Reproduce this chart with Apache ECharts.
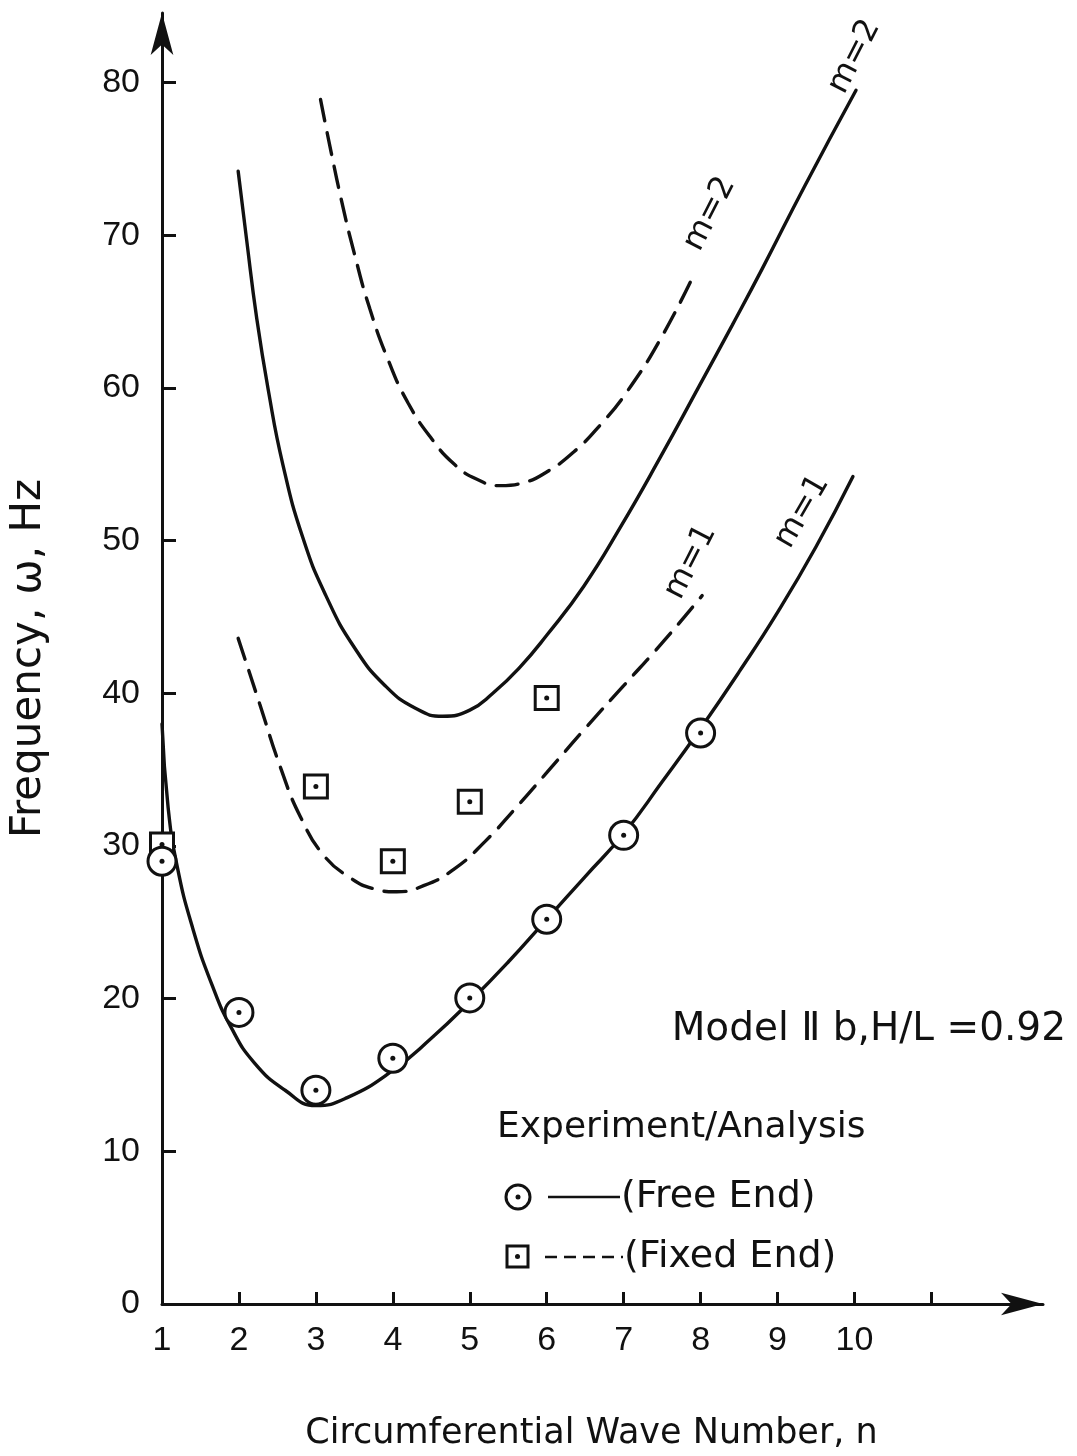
<!DOCTYPE html>
<html>
<head>
<meta charset="utf-8">
<script src="https://cdn.jsdelivr.net/npm/echarts@6/dist/echarts.min.js"></script>
<style>
  html, body { margin: 0; padding: 0; background: #ffffff; }
  #chart { width: 1077px; height: 1456px; }
</style>
</head>
<body>
<div id="chart"></div>
<script>
// Axis tick labels
const xTickLabels = [1, 2, 3, 4, 5, 6, 7, 8, 9, 10];
const xTickMarks = [2, 3, 4, 5, 6, 7, 8, 9, 10, 11];
const yTickLabels = [0, 10, 20, 30, 40, 50, 60, 70, 80];
const yTickMarks = [10, 20, 30, 40, 50, 60, 70, 80];

// Measured frequencies [n, Hz]
const freeEndExperiment = [[1, 29.0], [2, 19.1], [3, 14.0], [4, 16.1], [5, 20.05], [6, 25.2], [7, 30.7], [8, 37.4]];
const fixedEndExperiment = [[1, 30.1], [3, 33.9], [4, 29.0], [5, 32.9], [6, 39.7]];

// Analysis curves [n, Hz]
const freeEndM1 = [[1.0, 38.0], [1.08, 32.5], [1.2, 28.6], [1.4, 24.6], [1.65, 20.9], [1.9, 18.1], [2.2, 15.8],
  [2.6, 14.0], [3.0, 13.0], [3.4, 13.5], [4.0, 15.3], [4.5, 17.4], [5.0, 19.8], [5.5, 22.4], [6.0, 25.2], [6.5, 28.0],
  [7.0, 30.8], [7.5, 34.2], [8.0, 37.7], [8.5, 41.4], [9.0, 45.3], [9.5, 49.6], [9.98, 54.2]];
const freeEndM2 = [[1.99, 74.2], [2.1, 69.7], [2.23, 64.6], [2.38, 59.9], [2.57, 55.0], [2.83, 50.2], [3.13, 46.4],
  [3.5, 43.0], [3.9, 40.5], [4.3, 39.0], [4.65, 38.5], [5.0, 38.9], [5.3, 40.0], [5.65, 41.7], [6.0, 43.8],
  [6.48, 47.0], [6.96, 50.9], [7.47, 55.4], [7.99, 60.2], [8.41, 64.1], [8.8, 67.8], [9.35, 73.2], [10.02, 79.5]];
const fixedEndM1 = [[1.99, 43.6], [2.27, 39.3], [2.55, 35.0], [2.8, 31.9], [3.1, 29.4], [3.45, 27.9], [3.75, 27.2],
  [4.05, 27.0], [4.4, 27.4], [4.8, 28.5], [5.2, 30.3], [5.6, 32.5], [6.0, 34.8], [6.5, 37.7], [7.0, 40.5],
  [7.5, 43.3], [8.02, 46.4]];
const fixedEndM2 = [[3.06, 78.9], [3.2, 75.4], [3.35, 71.9], [3.5, 68.8], [3.7, 65.2], [3.95, 61.7], [4.2, 59.0],
  [4.5, 56.7], [4.8, 55.0], [5.1, 54.0], [5.4, 53.6], [5.7, 53.8], [6.0, 54.5], [6.35, 55.8], [6.7, 57.6],
  [7.05, 59.8], [7.5, 63.4], [7.93, 67.6]];

const FONT = 'DejaVu Sans';
const NUM_FONT = 'Liberation Sans';
const INK = '#111111';

const chart = echarts.init(document.getElementById('chart'), null, { renderer: 'canvas' });

const curve = (data, dashed) => ({
  type: 'line', data: data, smooth: 0.5, symbol: 'none', silent: true, z: 2,
  lineStyle: { color: INK, width: 3.4, type: dashed ? [22, 12] : 'solid', cap: 'round' }
});
const marker = (data, shape, size) => ([
  { type: 'scatter', data: data, symbol: shape, symbolSize: size, silent: true, z: shape === 'circle' ? 5 : 4,
    itemStyle: { color: '#ffffff', borderColor: INK, borderWidth: 3, opacity: 1 } },
  { type: 'scatter', data: data, symbol: 'circle', symbolSize: 5, silent: true, z: shape === 'circle' ? 6 : 4.5,
    itemStyle: { color: INK, opacity: 1 } }
]);

chart.setOption({
  backgroundColor: '#ffffff',
  animation: false,
  grid: { left: 155, right: 34, top: 13, bottom: 144 },
  xAxis: {
    type: 'value', min: 1, max: 12.45,
    name: 'Circumferential Wave Number, n', nameLocation: 'middle', nameGap: 112,
    nameTextStyle: { fontFamily: FONT, fontSize: 35, color: INK, padding: [0, 22, 0, 0] },
    axisLine: { show: true, onZero: false, symbol: ['none', 'arrow'], symbolSize: [17, 42],
      lineStyle: { color: INK, width: 3 } },
    axisTick: { show: true, inside: true, length: 12, customValues: xTickMarks,
      lineStyle: { color: INK, width: 3 } },
    axisLabel: { customValues: xTickLabels, margin: 20, fontFamily: NUM_FONT, fontSize: 34, color: INK },
    splitLine: { show: false }
  },
  yAxis: {
    type: 'value', min: 0, max: 84.56,
    name: 'Frequency, ω, Hz', nameLocation: 'middle', nameGap: 112, nameRotate: 90,
    nameTextStyle: { fontFamily: FONT, fontSize: 42, color: INK },
    axisLine: { show: true, onZero: false, symbol: ['none', 'arrow'], symbolSize: [17, 42],
      lineStyle: { color: INK, width: 3 } },
    axisTick: { show: true, inside: true, length: 14, customValues: yTickMarks,
      lineStyle: { color: INK, width: 3 } },
    axisLabel: { customValues: yTickLabels, margin: 22, fontFamily: NUM_FONT, fontSize: 34, color: INK },
    splitLine: { show: false }
  },
  series: [
    curve(freeEndM1, false),
    curve(freeEndM2, false),
    curve(fixedEndM1, true),
    curve(fixedEndM2, true),
    ...marker(fixedEndExperiment, 'rect', 23),
    ...marker(freeEndExperiment, 'circle', 28)
  ]
});

// Mode labels set along the curves, plus the key block
const px = (n, f) => chart.convertToPixel({ gridIndex: 0 }, [n, f]);
const modeLabel = (text, n, f, deg) => {
  const p = px(n, f);
  return { type: 'text', x: p[0], y: p[1], rotation: deg * Math.PI / 180, z: 10,
    style: { text: text, fontFamily: FONT, fontSize: 32, fill: INK, align: 'center', verticalAlign: 'middle' } };
};
const label = (text, x, y, size, align) => ({ type: 'text', x: x, y: y, z: 10,
  style: { text: text, fontFamily: FONT, fontSize: size, fill: INK, align: align || 'left', verticalAlign: 'middle' } });

chart.setOption({
  graphic: [
    modeLabel('m=2', 10.0, 81.7, 63),
    modeLabel('m=2', 8.12, 71.4, 63),
    modeLabel('m=1', 7.87, 48.6, 63),
    modeLabel('m=1', 9.32, 51.9, 60),
    label('Model Ⅱ b,H/L =0.92', 1066, 1030, 39, 'right'),
    label('Experiment/Analysis', 497, 1128, 36),
    { type: 'circle', shape: { cx: 518, cy: 1197, r: 12 }, style: { fill: '#fff', stroke: INK, lineWidth: 3 } },
    { type: 'circle', shape: { cx: 518, cy: 1197, r: 2.5 }, style: { fill: INK } },
    { type: 'line', shape: { x1: 548, y1: 1197, x2: 620, y2: 1197 }, style: { stroke: INK, lineWidth: 2.5 } },
    label('(Free End)', 621, 1197, 38),
    { type: 'rect', shape: { x: 507, y: 1246, width: 21, height: 21 }, style: { fill: '#fff', stroke: INK, lineWidth: 3 } },
    { type: 'circle', shape: { cx: 517.5, cy: 1256.5, r: 2.5 }, style: { fill: INK } },
    { type: 'line', shape: { x1: 545, y1: 1257, x2: 623, y2: 1257 }, style: { stroke: INK, lineWidth: 2.5, lineDash: [12, 7] } },
    label('(Fixed End)', 624, 1257, 38)
  ]
});
</script>
</body>
</html>
